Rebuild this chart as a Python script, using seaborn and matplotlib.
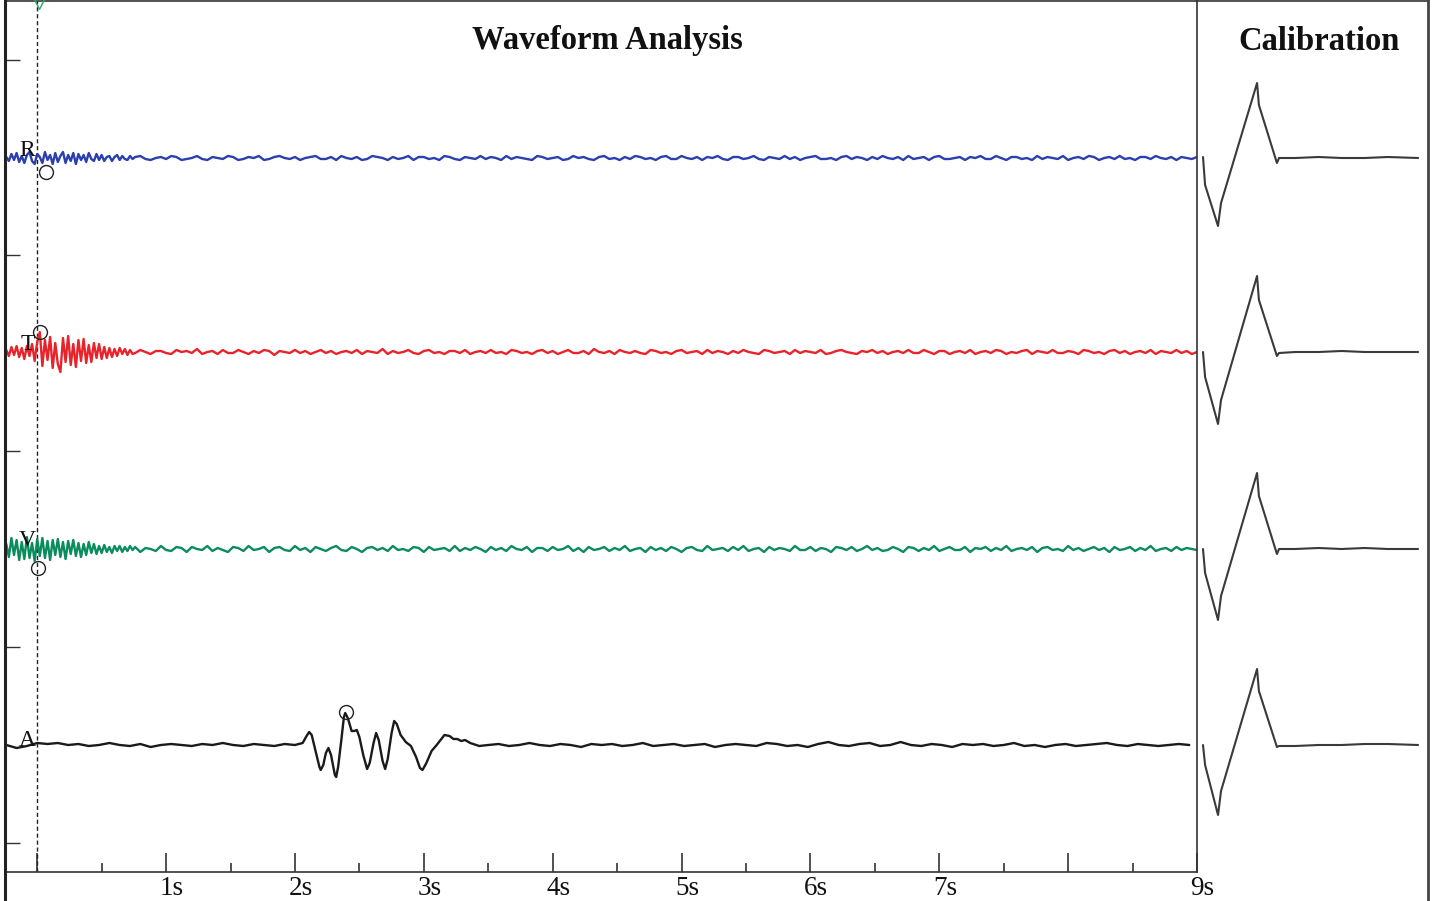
import numpy as np
import pandas as pd
import matplotlib
matplotlib.use("Agg")
import matplotlib.pyplot as plt
import matplotlib.transforms as mtransforms
from matplotlib.lines import Line2D
import seaborn as sns

# ---------------- data (amplitudes in display units, up = positive) ----------------
CHANNELS = ["R", "T", "V", "A"]
CHANNEL_OFFSET = {"R": 587, "T": 393, "V": 196, "A": 0}
COLORS = {"R": "#2b3fae", "T": "#e8232b", "V": "#0b8c5f", "A": "#1a1a1a"}

# noisy channels: onset burst sampled every 0.02 s, then every 0.04 s
BURST_START, BURST_DT = -0.24, 0.02
QUIET_START, QUIET_DT = 0.76, 0.04

R_burst = [1, -3, 4, -2, 5, -4, 2, -5, 3, 6, -3, -6, 4, 1, -5, 6, -2, 3, -6, 5,
           -4, 2, 6, -5, 3, -3, 5, -6, 4, -2, 3, -4, 5, -1, -3, 4, -2, 3, -3, 1,
           2, -3, 1, 3, -2, 2, -1, -2, 2, -1]
R_quiet = [1, 2, -1, -2, 0, 1, -1, 2, 1, -2, -1, 0, 2, -1, -2, 1, 0, -1, 2, 1,
           -2, -1, 1, 0, 2, -2, -1, 1, 2, 0, -1, 1, -2, 0, 1, 2, -1, -1, 1, -2,
           2, 0, -1, 1, -2, -1, 2, 1, 0, -2, 1, -1, 0, 2, -2, 1, 1, -1, 0, -2,
           2, 1, -1, -2, 1, 0, -1, 2, -1, 1, 0, -2, 2, -1, 1, 0, -1, -2, 2, 1,
           -1, 0, 1, -2, -1, 2, 0, 1, -1, -2, 1, 2, -1, 0, -2, 1, -1, 2, 1, -1,
           0, -2, 1, 2, -1, -1, 2, 0, -1, 1, -2, 1, 0, 2, -1, -2, 1, 1, -1, 0,
           2, -1, -2, 1, 0, -1, 2, -1, 1, -2, 0, 1, 2, -1, -1, 0, -2, 1, 2, -1,
           1, 0, -2, 1, -1, 2, 0, -1, 1, -2, 2, -1, 0, 1, -2, 1, 2, -1, -1, 0,
           1, -2, 1, 0, 2, -1, -1, 2, 0, -2, 1, 1, -1, 0, -2, 2, -1, 1, 0, -1,
           2, -2, 0, 1, -1, 2, 1, -2, 0, 1, -1, 2, -1, 0, -2, 1, 1, -1, 2, 0,
           -1, 1, -2, 1, 0, -1, 1]

T_burst = [2, -4, 5, -3, 6, -5, 4, -7, 6, -4, 8, -9, 10, 20, -14, 12, -8, 15, -16, 9,
           -12, -20, 14, -10, 16, -13, 8, -15, 12, -9, 13, -11, 7, -10, 9, -6, 8, -7, 5, -6,
           4, -5, 3, -4, 4, -2, 3, -3, 2, -2]
T_quiet = [-1, 2, 0, -2, 1, 1, -1, -2, 2, 0, 1, -1, 3, -2, 0, 1, -2, 2, -1, -1,
           2, 0, -2, 1, -1, 2, 1, -3, 1, 0, -1, 2, -1, 1, -2, 0, 2, -1, 1, -2,
           0, 1, -1, 2, -2, 1, 0, -1, 3, -2, 1, -1, 0, 2, -1, -2, 1, 2, -1, 0,
           -2, 1, 1, -1, 2, -2, 0, 1, -1, 2, -1, 0, -2, 2, 1, -1, 0, -2, 1, 2,
           -1, 1, -2, 0, 2, -1, -1, 1, -2, 3, 0, -1, 1, -2, 2, 0, -1, 1, -1, -2,
           2, 1, -1, 0, -2, 1, 2, -1, 0, 1, -2, 2, -1, 1, 0, -2, 1, -1, 2, 0,
           -1, -2, 2, 1, -1, 0, 1, -2, 2, -1, 1, 0, -1, 2, -2, -1, 1, 2, 0, -1,
           -2, 1, 0, 2, -1, 1, -2, 0, 1, -1, 2, -1, -1, 2, 0, -2, 1, 1, -2, 0,
           1, -1, 2, -2, 0, 1, -1, 2, 1, -2, 0, -1, 1, 2, -2, 1, 0, -1, 2, -1,
           -1, 1, 0, -2, 2, 1, -1, 0, -2, 1, 2, -1, 1, -2, 0, 1, -1, 2, -2, 1,
           0, -1, 2, -1, 1, -2, 0]

V_burst = [5, -8, 11, -6, 9, -11, 7, -10, 12, -9, 6, -12, 10, -7, 11, -9, 8, -11, 9, -6,
           10, -8, 7, -10, 8, -5, 9, -7, 6, -8, 5, -6, 7, -4, 5, -5, 3, -4, 4, -3,
           2, -4, 3, -2, 3, -3, 2, -2, 3, -1]
V_quiet = [2, -3, 1, 0, -2, 3, -1, -2, 2, 1, -3, 2, 0, -1, 3, -2, 1, -1, -3, 2,
           1, -2, 3, -1, 0, 2, -3, 1, 2, -1, -2, 3, -1, 1, -3, 2, 0, -2, 1, 3,
           -1, -2, 2, 0, -3, 1, 2, -1, 1, -2, 3, -1, 0, -2, 2, 1, -3, 2, -1, 0,
           1, -2, 3, -2, 1, -1, 2, 0, -3, 2, -1, 1, -2, 3, 0, -1, 2, -3, 1, 1,
           -2, 2, -1, 0, 3, -2, 1, -3, 2, -1, 0, 2, -2, 1, -1, 3, -2, 0, 1, -3,
           2, -1, 1, -2, 2, 0, -3, 1, 2, -1, -2, 3, -1, 0, 1, -2, 2, -1, 3, -2,
           0, 1, -3, 2, -1, 1, 0, -2, 3, -1, -1, 2, -2, 1, 0, -3, 2, 1, -1, 2,
           -2, 0, 3, -1, 1, -2, -1, 2, 0, -3, 2, 1, -2, 1, -1, 3, -2, 0, 2, -1,
           -1, 2, -3, 1, 0, 2, -2, 1, -1, 3, -2, 0, 1, -1, 2, -3, 1, 2, -1, 0,
           -2, 3, -1, 1, -2, 0, 2, -1, 1, -3, 2, -1, 0, 2, -2, 1, -1, 3, -2, 0,
           1, -2, 2, -1, 1, 0, -1]

# A (acoustic) channel: quiet parts sampled every 0.08 s, event read point by point
A_QUIET_DT = 0.08
A_quiet1_start = -0.24
A_quiet1 = [0, -3, -1, 2, 1, 2, 0, 1, -1, 0, 2, 0, -1, 1, -2, 0, 1, 0, -1, 1,
            0, 2, 0, -1, 1, 0, -1, 1, 0]
A_event_t = [2.06, 2.09, 2.11, 2.13, 2.16, 2.19, 2.20, 2.22, 2.24, 2.26, 2.28, 2.31,
             2.32, 2.335, 2.36, 2.38, 2.39, 2.41, 2.44, 2.46, 2.48, 2.50, 2.53, 2.56,
             2.58, 2.61, 2.63, 2.65, 2.68, 2.70, 2.72, 2.75, 2.77, 2.79, 2.82, 2.86,
             2.90, 2.94, 2.97, 2.99, 3.02, 3.06, 3.10, 3.13, 3.16, 3.20, 3.23, 3.26,
             3.29, 3.32, 3.36, 3.43]
A_event = [2, 9, 13, 10, -6, -22, -25, -20, -8, -3, -10, -30,
           -32, -22, 5, 28, 32, 27, 14, 14, 15, 8, -10, -24,
           -18, 2, 12, 5, -16, -24, -14, 12, 24, 21, 10, 3,
           -1, -12, -23, -25, -18, -6, 0, 5, 10, 9, 6, 6,
           4, 5, 2, -1]
A_quiet2_start = 3.50
A_quiet2 = [0, 1, -1, 0, 2, 0, -1, 1, 0, -2, 1, 0, 1, -1, 0, 2, -1, 0, 1, -1,
            0, 1, -2, 0, 1, 0, -1, 2, 1, -1, 0, -2, 1, 3, 0, -1, 1, 2, -1, 0,
            3, 0, -1, 1, 0, -2, 1, 0, 1, -1, 0, 2, -1, 0, -2, 0, 1, -1, 0, 1,
            2, 0, -1, 1, 0, -1, 0, 1, 0]

# calibration pulses (ms, same display units)
CAL_T = [0, 0.9, 6.5, 7.8, 23.4, 24.2, 32.0, 32.9, 40, 50, 60, 70, 80, 93.1]
CAL = {
    "R": [1, -27, -68, -45, 75, 53, -5, 0, 0, 1, 0, 0, 1, 0],
    "T": [0, -25, -72, -48, 76, 52, -4, -1, 0, 0, 1, 0, 0, 0],
    "V": [0, -24, -71, -47, 76, 53, -5, 0, 0, 1, 0, 1, 0, 0],
    "A": [0, -20, -70, -46, 76, 54, -2, -1, -1, 0, 0, 1, 1, 0],
}

# picked arrivals (time s, amplitude)
PICKS = {"R": (0.07, -14), "T": (0.023, 20), "V": (0.008, -19), "A": (2.393, 33)}

X_TICK_LABELS = ["", "1s", "2s", "3s", "4s", "5s", "6s", "7s", "", "9s"]

# ---------------- build long-form table ----------------
rows = []
for ch, burst, quiet in (("R", R_burst, R_quiet), ("T", T_burst, T_quiet),
                         ("V", V_burst, V_quiet)):
    t = np.concatenate([BURST_START + BURST_DT * np.arange(len(burst)),
                        QUIET_START + QUIET_DT * np.arange(len(quiet))])
    amp = list(burst) + list(quiet)
    for ti, a in zip(t, amp):
        rows.append((ch, ti, a + CHANNEL_OFFSET[ch]))
tA = np.concatenate([A_quiet1_start + A_QUIET_DT * np.arange(len(A_quiet1)),
                     np.array(A_event_t),
                     A_quiet2_start + A_QUIET_DT * np.arange(len(A_quiet2))])
aA = list(A_quiet1) + list(A_event) + list(A_quiet2)
for ti, a in zip(tA, aA):
    rows.append(("A", ti, a + CHANNEL_OFFSET["A"]))
df = pd.DataFrame(rows, columns=["channel", "time", "value"])

cal_rows = []
for ch in CHANNELS:
    for ti, a in zip(CAL_T, CAL[ch]):
        cal_rows.append((ch, ti, a + CHANNEL_OFFSET[ch]))
cal_df = pd.DataFrame(cal_rows, columns=["channel", "time", "value"])

# ---------------- figure ----------------
sns.set_theme(style="white")
plt.rcParams["font.family"] = ["Liberation Serif", "DejaVu Serif"]

W, H = 1432, 901
fig = plt.figure(figsize=(W / 100, H / 100), dpi=100)
fig.patch.set_facecolor("white")

def fx(px):
    return px / W

def fy(py):
    return 1 - py / H

L, Rm, Rc, TOP, BOT = 5, 1197, 1428, 1, 872
ax = fig.add_axes([fx(L), fy(BOT), fx(Rm) - fx(L), fy(TOP) - fy(BOT)])
cax = fig.add_axes([fx(Rm), fy(BOT), fx(Rc) - fx(Rm), fy(TOP) - fy(BOT)])

YLIM = (-127, 744)
ax.set_xlim(-0.25, 9.0)
ax.set_ylim(*YLIM)
cax.set_xlim(-2.6, 97.4)
cax.set_ylim(*YLIM)

sns.lineplot(data=df, x="time", y="value", hue="channel", palette=COLORS,
             estimator=None, sort=False, legend=False, linewidth=1.7, ax=ax)
sns.lineplot(data=cal_df, x="time", y="value", units="channel", color="#3a3a3a",
             estimator=None, sort=False, legend=False, linewidth=1.5, ax=cax)

# trigger line
ax.axvline(0, color="#222222", lw=1.0, ls=(0, (3, 2)), zorder=1)
ax.plot([0.015], [741], marker="v", ms=7, mfc="none", mec="#2fa36b", mew=1.0,
        clip_on=False, zorder=5)

# picks and channel letters
for ch in CHANNELS:
    pt, pa = PICKS[ch]
    ax.plot([pt], [pa + CHANNEL_OFFSET[ch]], marker="o", ms=10, mfc="none",
            mec="#222222", mew=1.0, zorder=6)
lab_dy = {"R": 7, "T": 7, "V": 8, "A": 4}
for ch in CHANNELS:
    ax.text(-0.075, CHANNEL_OFFSET[ch] + lab_dy[ch], ch, ha="center", va="center",
            fontsize=17, color="#111111", zorder=7)

# axes styling
ax.set_xlabel("")
ax.set_ylabel("")
cax.set_xlabel("")
cax.set_ylabel("")
ax.set_xticks(np.arange(0, 10, 1))
ax.set_xticks(np.arange(0.5, 9, 1), minor=True)
ax.set_xticklabels(X_TICK_LABELS)
ax.set_yticks([-98, 98, 294, 490, 685])
ax.set_yticklabels([])
ax.tick_params(axis="x", which="major", direction="in", length=13.5, width=1.2,
               color="#333333", labelsize=19.5, pad=3, labelcolor="#111111",
               bottom=True)
ax.tick_params(axis="x", which="minor", direction="in", length=6.5, width=1.2,
               color="#333333", bottom=True)
ax.tick_params(axis="y", which="major", direction="in", length=11, width=1.0,
               color="#333333", left=True)
offset = mtransforms.ScaledTranslation(-0.065, 0, fig.dpi_scale_trans)
for lbl in ax.get_xticklabels():
    lbl.set_horizontalalignment("left")
    lbl.set_transform(lbl.get_transform() + offset)

for side in ("top", "right", "bottom"):
    ax.spines[side].set_visible(True)
    ax.spines[side].set_color("#333333")
    ax.spines[side].set_linewidth(1.2)
ax.spines["left"].set_visible(False)

cax.set_xticks([])
cax.set_yticks([])
for side in ("left", "bottom", "right"):
    cax.spines[side].set_visible(False)
cax.spines["top"].set_color("#333333")
cax.spines["top"].set_linewidth(1.2)
ax.set_facecolor("none")
cax.set_facecolor("none")

# outer frame lines
fig.add_artist(Line2D([fx(L), fx(L)], [0, 1], color="#222222", lw=2.2,
                      transform=fig.transFigure))
fig.add_artist(Line2D([fx(Rc), fx(Rc)], [0, 1], color="#444444", lw=2.0,
                      transform=fig.transFigure))

# titles
ax.text((607 - L) / (Rm - L), (BOT - 41) / (BOT - TOP), "Waveform Analysis",
        transform=ax.transAxes, ha="center", va="center", fontsize=23.5,
        fontweight="bold", color="#111111")
cax.text((1319 - Rm) / (Rc - Rm), (BOT - 41) / (BOT - TOP), "Calibration",
         transform=cax.transAxes, ha="center", va="center", fontsize=23.5,
         fontweight="bold", color="#111111")

fig.savefig("out.png", dpi=100, facecolor="white")
